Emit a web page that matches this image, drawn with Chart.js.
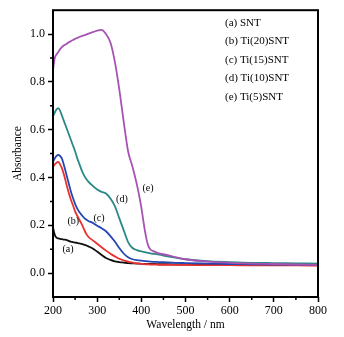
<!DOCTYPE html>
<html>
<head>
<meta charset="utf-8">
<script src="https://cdn.jsdelivr.net/npm/chart.js@4/dist/chart.umd.min.js"></script>
<style>
  html, body { margin: 0; padding: 0; background: #fff; }
  #wrap { width: 344px; height: 337px; }
</style>
</head>
<body>
<div id="wrap"><canvas id="uvChart" width="344" height="337"></canvas></div>
<script>
// wavelength grid (nm) shared by all spectra
const wavelengths = [200, 204, 208, 212, 216, 220, 225, 230, 235, 240, 245, 250, 255, 260, 265, 270, 275, 280, 290, 300,
                     310, 320, 330, 340, 350, 360, 370, 380, 390, 395, 400, 405, 410, 415, 420, 430, 440, 460, 480, 500,
                     550, 600, 650, 700, 750, 800];

// absorbance
const absSNT = [0.19, 0.16, 0.148, 0.145, 0.143, 0.142, 0.14, 0.139, 0.135, 0.132, 0.13, 0.128, 0.126, 0.124, 0.122, 0.119, 0.116, 0.112, 0.103, 0.09,
                0.076, 0.063, 0.055, 0.049, 0.046, 0.044, 0.042, 0.041, 0.04, 0.04, 0.039, 0.039, 0.039, 0.038, 0.038, 0.038, 0.037, 0.037, 0.036, 0.036,
                0.035, 0.035, 0.034, 0.034, 0.034, 0.034];
const absTi20 = [0.445, 0.455, 0.462, 0.465, 0.455, 0.44, 0.41, 0.375, 0.34, 0.31, 0.285, 0.258, 0.24, 0.222, 0.205, 0.185, 0.165, 0.152, 0.137, 0.123,
                 0.108, 0.094, 0.081, 0.07, 0.06, 0.053, 0.048, 0.044, 0.041, 0.04, 0.039, 0.038, 0.037, 0.037, 0.036, 0.036, 0.035, 0.035, 0.034, 0.034,
                 0.033, 0.033, 0.032, 0.032, 0.032, 0.031];
const absTi15 = [0.465, 0.48, 0.49, 0.495, 0.49, 0.48, 0.45, 0.415, 0.38, 0.345, 0.315, 0.29, 0.27, 0.255, 0.243, 0.232, 0.224, 0.218, 0.21, 0.198,
                 0.188, 0.175, 0.155, 0.132, 0.105, 0.082, 0.066, 0.058, 0.054, 0.053, 0.052, 0.051, 0.05, 0.049, 0.048, 0.047, 0.046, 0.045, 0.043, 0.042,
                 0.04, 0.038, 0.037, 0.036, 0.036, 0.035];
const absTi10 = [0.655, 0.672, 0.685, 0.69, 0.68, 0.66, 0.635, 0.61, 0.585, 0.56, 0.535, 0.51, 0.48, 0.455, 0.43, 0.41, 0.395, 0.383, 0.365, 0.35,
                 0.34, 0.333, 0.312, 0.28, 0.23, 0.18, 0.13, 0.105, 0.096, 0.093, 0.091, 0.089, 0.087, 0.085, 0.083, 0.08, 0.077, 0.07, 0.064, 0.058,
                 0.05, 0.046, 0.043, 0.042, 0.041, 0.04];
const absTi5 = [0.85, 0.9, 0.915, 0.925, 0.937, 0.945, 0.953, 0.958, 0.965, 0.97, 0.975, 0.98, 0.984, 0.988, 0.992, 0.995, 0.998, 1.002, 1.008, 1.015,
                1.018, 1.0, 0.965, 0.885, 0.77, 0.635, 0.51, 0.445, 0.37, 0.325, 0.275, 0.213, 0.158, 0.118, 0.1, 0.09, 0.083, 0.075, 0.066, 0.058,
                0.048, 0.043, 0.04, 0.038, 0.036, 0.034];

const seriesNames = ['(a) SNT', '(b) Ti(20)SNT', '(c) Ti(15)SNT', '(d) Ti(10)SNT', '(e) Ti(5)SNT'];
const seriesColors = ['#111111', '#e8312f', '#2447b3', '#2a8984', '#a653b4'];
const curveTags = ['(a)', '(b)', '(c)', '(d)', '(e)'];
// where each tag sits, in data units
const tagWave = [234, 246, 304, 356, 415];
const tagAbs = [0.099, 0.215, 0.231, 0.307, 0.353];

const xMajor = [200, 300, 400, 500, 600, 700, 800];
const xMinor = [250, 350, 450, 550, 650, 750];
const yMajor = [0.0, 0.2, 0.4, 0.6, 0.8, 1.0];
const yMinor = [0.1, 0.3, 0.5, 0.7, 0.9];

const allSeries = [absSNT, absTi20, absTi15, absTi10, absTi5];
const serif = "'Liberation Serif', 'Times New Roman', serif";
Chart.defaults.font.family = serif;
Chart.defaults.color = '#000';

// frame, minor ticks, curve tags and the text legend
const decor = {
    id: 'decor',
    afterDatasetsDraw(chart) {
        const ctx = chart.ctx;
        const a = chart.chartArea;
        const xs = chart.scales.x, ys = chart.scales.y;
        ctx.save();
        ctx.strokeStyle = '#000';
        ctx.lineWidth = 1.5;
        ctx.beginPath();
        yMinor.forEach(v => {
            const py = ys.getPixelForValue(v);
            ctx.moveTo(a.left - 3, py); ctx.lineTo(a.left, py);
        });
        xMinor.forEach(v => {
            const px = xs.getPixelForValue(v);
            ctx.moveTo(px, a.bottom); ctx.lineTo(px, a.bottom + 3);
        });
        ctx.stroke();
        ctx.lineWidth = 2;
        ctx.strokeRect(a.left, a.top, a.right - a.left, a.bottom - a.top);

        ctx.fillStyle = '#000';
        ctx.textBaseline = 'middle';
        ctx.textAlign = 'center';
        ctx.font = '10px ' + serif;
        curveTags.forEach((t, i) => {
            ctx.fillText(t, xs.getPixelForValue(tagWave[i]), ys.getPixelForValue(tagAbs[i]));
        });
        ctx.textAlign = 'left';
        ctx.font = '11px ' + serif;
        seriesNames.forEach((n, i) => {
            ctx.fillText(n, 225, 23 + i * 18.5);
        });
        ctx.restore();
    }
};

const ctx = document.getElementById('uvChart').getContext('2d');
const uvChart = new Chart(ctx, {
    type: 'line',
    data: {
        datasets: allSeries.map((vals, i) => ({
            label: seriesNames[i],
            data: wavelengths.map((w, j) => ({ x: w, y: vals[j] })),
            borderColor: seriesColors[i],
            borderWidth: 1.8,
            pointRadius: 0,
            cubicInterpolationMode: 'monotone',
            order: 4 - i
        }))
    },
    options: {
        responsive: false,
        animation: false,
        devicePixelRatio: 1,
        layout: { padding: { top: 10, right: 26, bottom: 0, left: 0 } },
        plugins: { legend: { display: false }, tooltip: { enabled: false } },
        scales: {
            x: {
                type: 'linear',
                min: 200,
                max: 800,
                afterBuildTicks: s => { s.ticks = xMajor.map(v => ({ value: v })); },
                afterFit: s => { s.height = 40; },
                ticks: { font: { size: 12 }, color: '#000', padding: 2, maxRotation: 0 },
                grid: { drawOnChartArea: false, tickLength: 5, tickWidth: 1.5, tickColor: '#000' },
                border: { display: false },
                title: { display: true, text: 'Wavelength / nm', font: { size: 11.5 }, color: '#000', padding: { top: 0, bottom: 5 } }
            },
            y: {
                type: 'linear',
                min: -0.1,
                max: 1.1,
                afterBuildTicks: s => { s.ticks = yMajor.map(v => ({ value: v })); },
                afterFit: s => { s.width = 53; },
                ticks: { font: { size: 12 }, color: '#000', padding: 3, callback: v => v.toFixed(1) },
                grid: { drawOnChartArea: false, tickLength: 5, tickWidth: 1.5, tickColor: '#000' },
                border: { display: false },
                title: { display: true, text: 'Absorbance', font: { size: 11.5 }, color: '#000', padding: { top: 11, bottom: 0 } }
            }
        }
    },
    plugins: [decor]
});
</script>
</body>
</html>
